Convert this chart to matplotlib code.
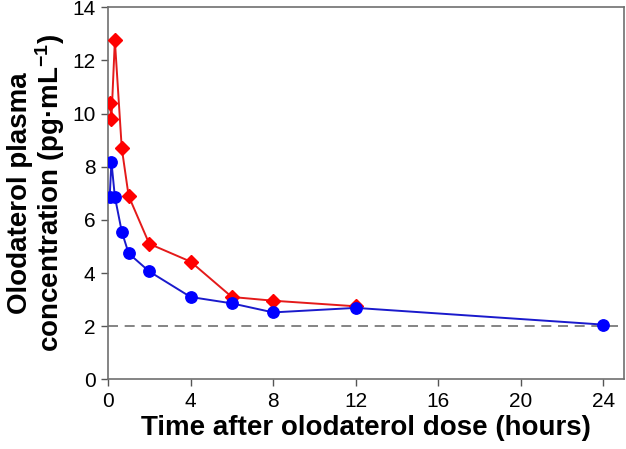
import matplotlib
matplotlib.use("Agg")
import matplotlib.pyplot as plt

plt.rcParams['font.family'] = ['Liberation Sans', 'DejaVu Sans']
plt.rcParams['mathtext.default'] = 'regular'

time_red = [0.083, 0.167, 0.333, 0.667, 1, 2, 4, 6, 8, 12]
conc_red = [10.4, 9.8, 12.75, 8.7, 6.9, 5.1, 4.43, 3.1, 2.96, 2.75]

time_blue = [0.083, 0.167, 0.333, 0.667, 1, 2, 4, 6, 8, 12, 24]
conc_blue = [6.87, 8.18, 6.87, 5.56, 4.74, 4.06, 3.1, 2.86, 2.52, 2.69, 2.06]

threshold = 2.0
xticks = [0, 4, 8, 12, 16, 20, 24]
yticks = [0, 2, 4, 6, 8, 10, 12, 14]

fig = plt.figure(figsize=(6.26, 4.49), dpi=100)
ax = fig.add_axes([0.1725, 0.155, 0.8245, 0.829])

ax.axhline(threshold, color='#707070', lw=1.2, ls=(0, (6, 4)), zorder=1)
ax.plot(time_red, conc_red, color='#e41a1a', lw=1.4, marker='D', ms=7.2,
        markerfacecolor='#ff0000', markeredgecolor='#ff0000', zorder=3)
ax.plot(time_blue, conc_blue, color='#1a1acc', lw=1.4, marker='o', ms=8.2,
        markerfacecolor='#0000ff', markeredgecolor='#0000ff', zorder=4)

ax.set_xlim(0, 25)
ax.set_ylim(0, 14)
ax.set_xticks(xticks)
ax.set_yticks(yticks)
ax.tick_params(axis='both', labelsize=15, direction='out', length=5,
               color='#555555', width=1, pad=4)
for s in ax.spines.values():
    s.set_color('#707070')
    s.set_linewidth(1.2)

ax.set_xlabel('Time after olodaterol dose (hours)', fontsize=20, fontweight='bold', labelpad=3)
ax.set_ylabel('Olodaterol plasma\nconcentration (pg·mL$^{-1}$)', fontsize=20,
              fontweight='bold', labelpad=4, linespacing=1.0)

fig.savefig('out.png', dpi=100)
